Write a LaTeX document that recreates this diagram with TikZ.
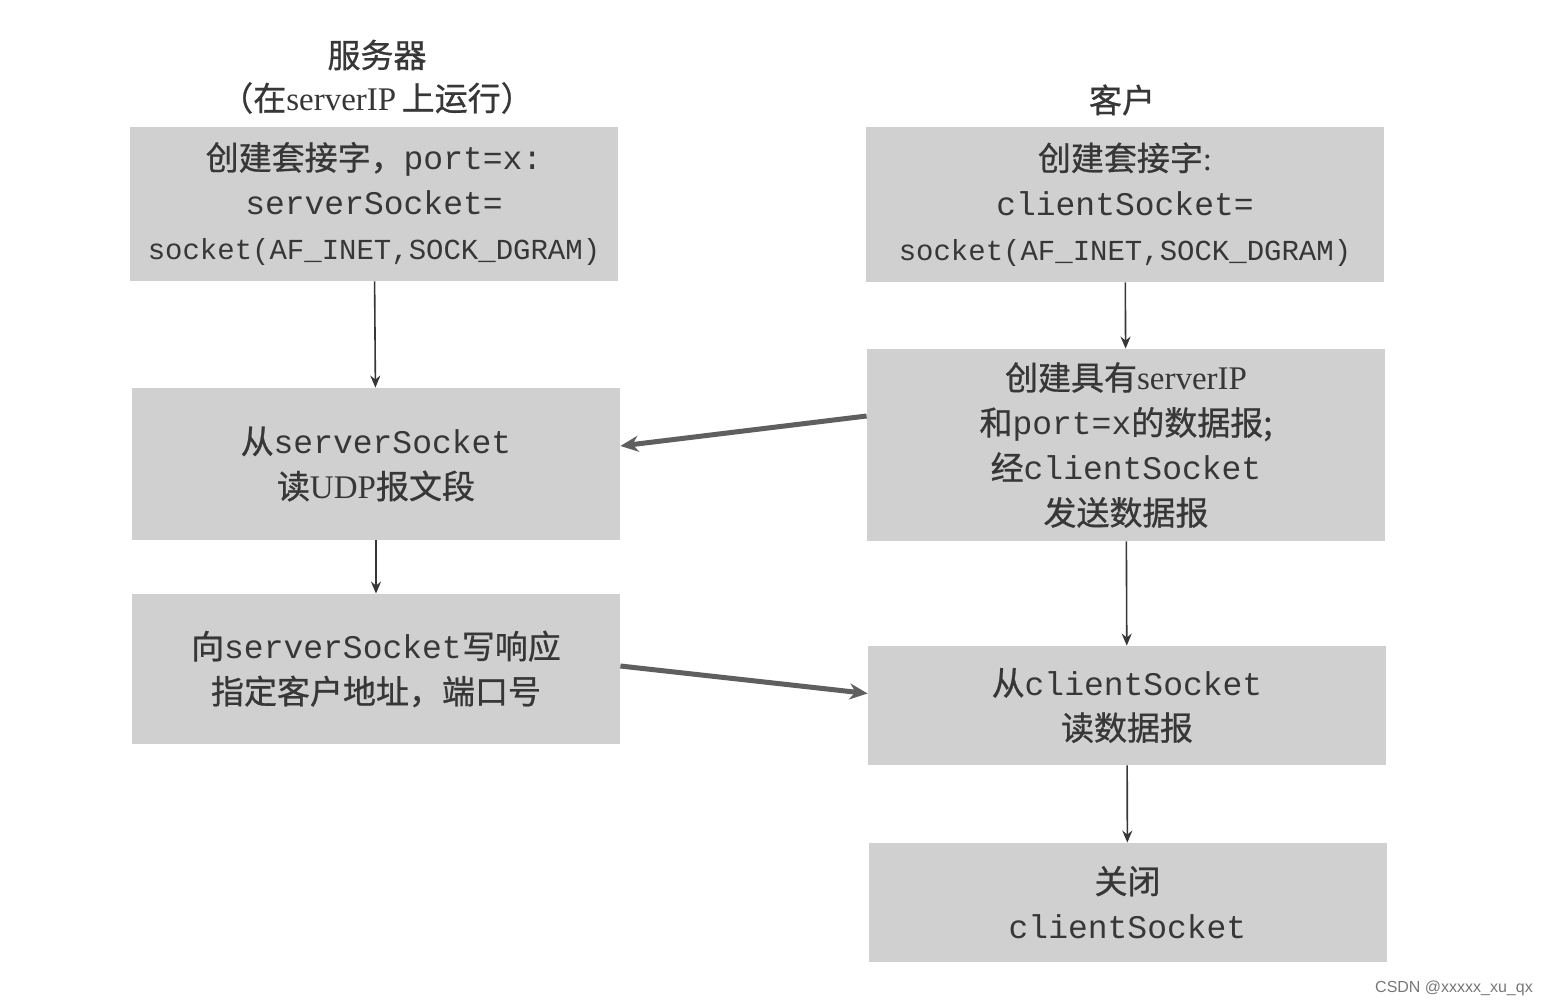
\documentclass[tikz,border=0pt]{standalone}
\usepackage{fontspec}
\usepackage{tikz}
\usetikzlibrary{arrows.meta}
\setmainfont{Liberation Serif}
\setmonofont{Liberation Mono}
\newfontfamily\cjk[FakeBold=0.8]{Noto Sans CJK SC}
\newfontfamily\marksans{Liberation Sans}
\newcommand{\zh}[1]{{\cjk #1}}
\newcommand{\code}[1]{{\ttfamily #1}}
\definecolor{boxgray}{RGB}{208,208,208}
\definecolor{inkgray}{RGB}{55,55,55}
\definecolor{arrowgray}{RGB}{95,95,95}
\definecolor{markgray}{RGB}{120,120,120}

\begin{document}
\begin{tikzpicture}[x=0.5pt,y=-0.5pt,
  font=\fontsize{16.5}{22.5}\selectfont,text=inkgray,
  srvbox/.style={rectangle,fill=boxgray,align=center,inner sep=0pt,minimum width=244pt},
  clibox/.style={srvbox,minimum width=259pt},
  title/.style={align=center,inner sep=0pt},
  flow/.style={-{Stealth[length=6pt,width=5pt]},draw=inkgray,line width=.8pt},
  msg/.style={-{Stealth[length=9pt,width=8pt]},draw=arrowgray,line width=2.5pt}
]
\useasboundingbox[fill=white] (0,0) rectangle (1544,1006);
% server side
\node[title] (srvTitle) at (377,55) {\zh{服务器}};
\node[title] (srvRun) at (377,98) {\zh{（在}serverIP\,\zh{上运行）}};
\node[srvbox,minimum height=77pt] (srvSock) at (374,204) {\zh{创建套接字，}\code{port=x:}\\\code{serverSocket=}\\{\fontsize{14.5}{22.5}\selectfont\code{socket(AF\_INET,SOCK\_DGRAM)}}};
\node[srvbox,minimum height=76pt] (srvRead) at (376,464) {\zh{从}\code{serverSocket}\\\zh{读}UDP\zh{报文段}};
\node[srvbox,minimum height=75pt] (srvReply) at (376,669) {\zh{向}\code{serverSocket}\zh{写响应}\\\zh{指定客户地址，端口号}};
% client side
\node[title] (cliTitle) at (1122,100) {\zh{客户}};
\node[clibox,minimum height=77.5pt] (cliSock) at (1125,204.5) {\zh{创建套接字}:\\\code{clientSocket=}\\{\fontsize{14.5}{22.5}\selectfont\code{socket(AF\_INET,SOCK\_DGRAM)}}};
\node[clibox,minimum height=96pt] (cliSend) at (1126,445) {\zh{创建具有}serverIP\\\zh{和}\code{port=x}\zh{的数据报}\zh{;}\\\zh{经}\code{clientSocket}\\\zh{发送数据报}};
\node[clibox,minimum height=59.5pt] (cliRead) at (1127,705.5) {\zh{从}\code{clientSocket}\\\zh{读数据报}};
\node[clibox,minimum height=59.5pt] (cliClose) at (1127.5,902.5) {\zh{关闭}\\\code{clientSocket}};
\node[inner sep=0pt,text=markgray,font=\marksans\fontsize{8}{9}\selectfont] (mark) at (1454,988) {CSDN @xxxxx\_xu\_qx};
% arrows
\draw[flow] (srvSock) -- (srvRead);
\draw[flow] (srvRead) -- (srvReply);
\draw[flow] (cliSock) -- (cliSend);
\draw[flow] (cliSend) -- (cliRead);
\draw[flow] (cliRead) -- (cliClose);
\draw[msg] ([yshift=14.5pt]cliSend.west) -- ([yshift=9pt]srvRead.east);
\draw[msg] ([yshift=1.5pt]srvReply.east) -- ([yshift=6pt]cliRead.west);
\end{tikzpicture}
\end{document}
